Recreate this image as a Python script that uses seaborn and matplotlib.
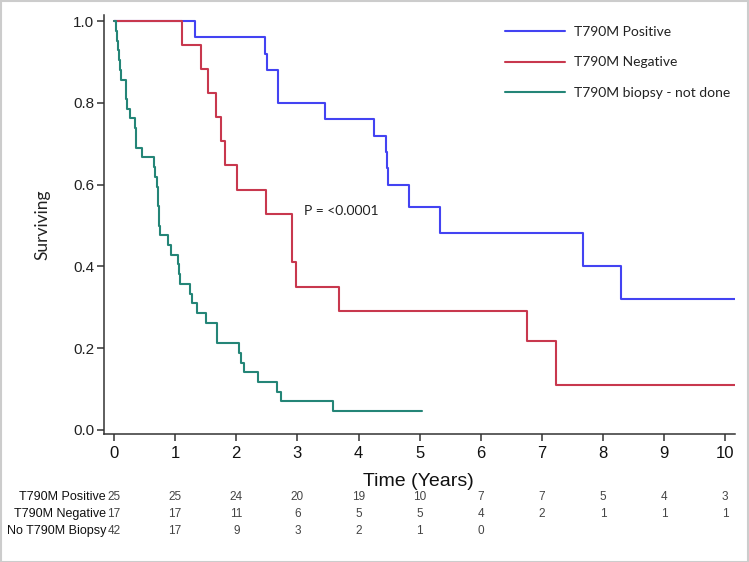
import matplotlib
matplotlib.use("Agg")
import matplotlib.pyplot as plt
import matplotlib.transforms as mtransforms
from matplotlib import font_manager
from matplotlib.patches import Rectangle
import seaborn as sns
import pandas as pd

# ---------------- data ----------------
groups = ["T790M Positive", "T790M Negative", "T790M biopsy - not done"]

pos_times = [0, 1.33, 2.47, 2.50, 2.69, 3.46, 4.26, 4.45, 4.47, 4.49, 4.83, 5.33, 7.68, 8.30, 10.16]
pos_surv = [1.0, 0.96, 0.92, 0.88, 0.80, 0.76, 0.72, 0.68, 0.64, 0.60, 0.545, 0.483, 0.402, 0.321, 0.321]

neg_times = [0, 1.12, 1.43, 1.54, 1.67, 1.75, 1.82, 2.02, 2.49, 2.92, 2.98, 3.68, 6.76, 7.23, 10.16]
neg_surv = [1.0, 0.941, 0.882, 0.824, 0.765, 0.706, 0.647, 0.588, 0.529, 0.410, 0.350, 0.291, 0.218, 0.109, 0.109]

nb_times = [0, 0.03, 0.05, 0.06, 0.08, 0.09, 0.11, 0.19, 0.21, 0.26, 0.34, 0.355, 0.46,
            0.65, 0.67, 0.71, 0.72, 0.74, 0.76, 0.89, 0.94, 1.04, 1.07, 1.08, 1.24, 1.27,
            1.36, 1.51, 1.68, 1.69, 2.05, 2.07, 2.13, 2.35, 2.67, 2.74, 3.58, 5.04]
nb_surv = [1.0, 0.976, 0.952, 0.929, 0.905, 0.881, 0.857, 0.810, 0.786, 0.762, 0.738, 0.690, 0.667,
           0.643, 0.619, 0.595, 0.548, 0.500, 0.476, 0.452, 0.429, 0.405, 0.381, 0.357, 0.333, 0.310,
           0.286, 0.262, 0.236, 0.212, 0.188, 0.163, 0.141, 0.117, 0.094, 0.071, 0.046, 0.046]

risk_labels = ["T790M Positive", "T790M Negative", "No T790M Biopsy"]
risk_times = [0, 1, 2, 3, 4, 5, 6, 7, 8, 9, 10]
risk_pos = [25, 25, 24, 20, 19, 10, 7, 7, 5, 4, 3]
risk_neg = [17, 17, 11, 6, 5, 5, 4, 2, 1, 1, 1]
risk_nb = [42, 17, 9, 3, 2, 1, 0]

colors = ["#4343F2", "#C8384E", "#248577"]

# ---------------- fonts ----------------
def have(fam):
    try:
        font_manager.findfont(font_manager.FontProperties(family=fam), fallback_to_default=False)
        return True
    except Exception:
        return False

narrow = "Liberation Sans Narrow" if have("Liberation Sans Narrow") else "Liberation Sans"
arial = "Liberation Sans"
soft = "Lato" if have("Lato") else "DejaVu Sans"

sns.set_style("ticks")
plt.rcParams["font.family"] = [arial, "DejaVu Sans"]

W, H = 749, 562
fig = plt.figure(figsize=(W / 100, H / 100), dpi=100)
ax = fig.add_axes([104 / W, 1 - 434 / H, (735 - 104) / W, (434 - 15) / H])

frames = []
for g, t, s in zip(groups, [pos_times, neg_times, nb_times], [pos_surv, neg_surv, nb_surv]):
    frames.append(pd.DataFrame({"time": t, "surv": s, "group": g}))
df = pd.concat(frames, ignore_index=True)

for g, c in zip(groups, colors):
    sub = df[df["group"] == g]
    sns.lineplot(data=sub, x="time", y="surv", drawstyle="steps-post", color=c,
                 linewidth=1.5, label=g, ax=ax, estimator=None, sort=False)

ax.set_xlim(-0.164, 10.16)
ax.set_ylim(-0.0098, 1.015)
ax.set_xticks(risk_times)
ax.set_yticks([0.0, 0.2, 0.4, 0.6, 0.8, 1.0])
ax.set_yticklabels([f"{v:.1f}" for v in [0.0, 0.2, 0.4, 0.6, 0.8, 1.0]],
                   fontsize=11, family=arial, color="#222222")
ax.set_xticklabels([str(v) for v in risk_times], fontsize=12, family=narrow, color="#111111")
for sp in ["top", "right"]:
    ax.spines[sp].set_visible(False)
for sp in ["left", "bottom"]:
    ax.spines[sp].set_linewidth(1.1)
    ax.spines[sp].set_color("#333333")
ax.tick_params(axis="both", length=5, width=1.1, color="#333333", direction="out")
ax.tick_params(axis="x", pad=4)
ax.tick_params(axis="y", pad=2)

ax.set_xlabel("")
ax.set_ylabel("")
fig.text(42 / W, 1 - 225 / H, "Surviving", rotation=90, ha="center", va="center",
         fontsize=12.5, family=soft, color="#222222")
fig.text(418 / W, 1 - 481 / H, "Time (Years)", ha="center", va="center",
         fontsize=14, family=narrow, color="#111111")

fig.text(304 / W, 1 - 211 / H, "P = <0.0001", ha="left", va="center",
         fontsize=10, family=soft, color="#222222")

leg = ax.legend(loc="upper left", bbox_to_anchor=(505 / W, 1 - 26 / H),
                bbox_transform=fig.transFigure, frameon=False, borderpad=0,
                borderaxespad=0, handlelength=4.3, handletextpad=0.7,
                labelspacing=1.33, prop={"family": soft, "size": 10})
for txt in leg.get_texts():
    txt.set_color("#222222")

# risk table
blend = mtransforms.blended_transform_factory(ax.transData, fig.transFigure)
row_y = [497, 514, 531]
for lab, vals, yy in zip(risk_labels, [risk_pos, risk_neg, risk_nb], row_y):
    fig.text(106 / W, 1 - yy / H, lab, ha="right", va="center", fontsize=9,
             family=narrow, color="#111111")
    for t, v in zip(risk_times, vals):
        ax.text(t, 1 - yy / H, str(v), transform=blend, ha="center", va="center",
                fontsize=8.5, family=narrow, color="#444444", clip_on=False)

fig.patches.append(Rectangle((0.5 / W, 0.5 / H), 1 - 1.5 / W, 1 - 1.5 / H,
                             transform=fig.transFigure, fill=False,
                             edgecolor="#cccccc", linewidth=1.5))

fig.savefig("out.png", dpi=100)
